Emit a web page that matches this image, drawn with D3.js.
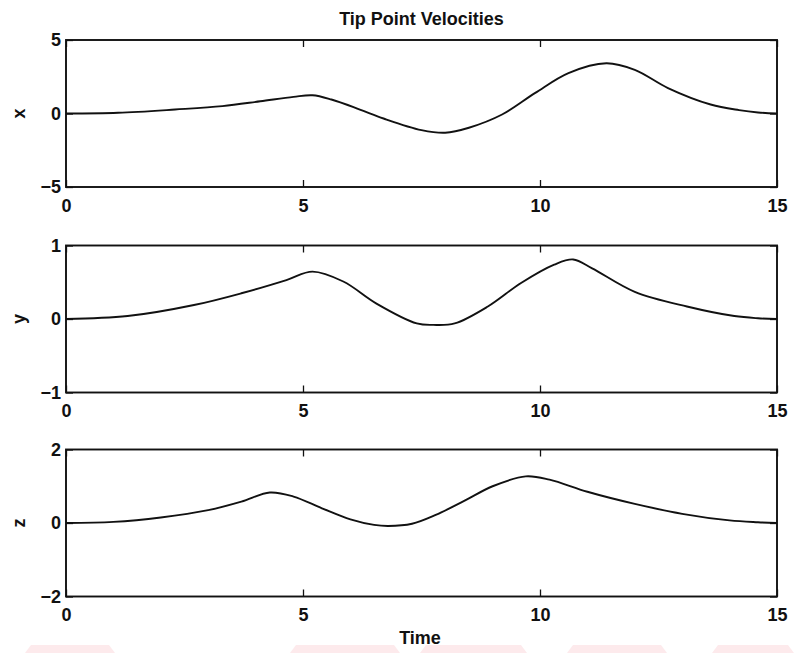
<!DOCTYPE html>
<html>
<head>
<meta charset="utf-8">
<script src="https://cdn.jsdelivr.net/npm/d3@7"></script>
<style>
  body { margin: 0; background: #fff; }
  svg { display: block; font-family: "Liberation Sans", Arial, sans-serif; }
</style>
</head>
<body>
<div id="chart"></div>
<script>

// time samples and velocity readings for each component
const tX = [0, 1.1, 2.3, 3.3, 4.1, 4.8, 5.2, 5.6, 6.2, 6.7, 7.5, 8.0, 8.5, 9.2, 9.9, 10.6, 11.4, 12.0, 12.7, 13.6, 14.2, 14.6, 15];
const vX = [0, 0.05, 0.27, 0.5, 0.83, 1.13, 1.24, 0.95, 0.27, -0.34, -1.13, -1.31, -0.97, -0.07, 1.40, 2.75, 3.42, 2.97, 1.73, 0.61, 0.23, 0.07, 0];

const tY = [0, 1.3, 2.7, 3.7, 4.65, 5.2, 5.85, 6.55, 7.4, 7.75, 8.2, 8.9, 9.6, 10.3, 10.7, 11.1, 12.0, 13.1, 14.1, 14.6, 15];
const vY = [0, 0.04, 0.19, 0.35, 0.53, 0.645, 0.51, 0.21, -0.06, -0.08, -0.06, 0.17, 0.49, 0.74, 0.81, 0.69, 0.37, 0.17, 0.04, 0.01, 0];

const tZ = [0, 1, 2, 3, 3.7, 4.3, 4.8, 5.4, 6.0, 6.5, 6.8, 7.3, 7.8, 8.4, 9.0, 9.7, 10.2, 11, 12, 13, 14, 14.6, 15];
const vZ = [0, 0.03, 0.15, 0.35, 0.58, 0.83, 0.72, 0.4, 0.1, -0.05, -0.08, -0.02, 0.22, 0.6, 1.0, 1.27, 1.18, 0.85, 0.52, 0.25, 0.07, 0.02, 0];

const xTicks = [0, 5, 10, 15];
const panelLabels = ["x", "y", "z"];
const panelDomains = [[-5, 5], [-1, 1], [-2, 2]];
const panelTicks = [[-5, 0, 5], [-1, 0, 1], [-2, 0, 2]];
const titleText = "Tip Point Velocities";
const xLabelText = "Time";

const width = 794, height = 653;
const left = 66, right = 777;
const panelTops = [40, 245.5, 449.5];
const panelH = 147;
const tickLen = 7;
const fontSize = 18;

const svg = d3.select("#chart").append("svg")
  .attr("width", width)
  .attr("height", height);

// faint watermark shapes along the bottom edge of the scan
const wm = [[25, 115], [290, 400], [420, 527], [567, 667], [712, 794]];
svg.selectAll(".wm")
  .data(wm)
  .enter().append("path")
  .attr("class", "wm")
  .attr("d", function(d) {
    return "M" + (d[0] + 6) + "," + 645 + "L" + (d[1] - 6) + "," + 645 +
      "L" + d[1] + "," + height + "L" + d[0] + "," + height + "Z";
  })
  .attr("fill", "#fdeaec");

var x = d3.scaleLinear()
  .domain([0, 15])
  .range([left, right]);

const series = [
  tX.map(function(t, i) { return [t, vX[i]]; }),
  tY.map(function(t, i) { return [t, vY[i]]; }),
  tZ.map(function(t, i) { return [t, vZ[i]]; })
];

series.forEach(function(data, p) {
  const top = panelTops[p];
  const bottom = top + panelH;

  var y = d3.scaleLinear()
    .domain(panelDomains[p])
    .range([bottom, top]);

  const g = svg.append("g").attr("class", "panel");

  // curve
  var line = d3.line()
    .x(function(d) { return x(d[0]); })
    .y(function(d) { return y(d[1]); })
    .curve(d3.curveCatmullRom.alpha(0.5));

  g.append("path")
    .datum(data)
    .attr("d", line)
    .attr("fill", "none")
    .attr("stroke", "#111")
    .attr("stroke-width", 1.9);

  // axes, ticks pointing inward like matlab
  g.append("g")
    .attr("transform", "translate(0," + bottom + ")")
    .call(d3.axisBottom(x).tickValues(xTicks).tickSize(-tickLen).tickPadding(12).tickFormat(d3.format("d")));

  g.append("g")
    .attr("transform", "translate(0," + top + ")")
    .call(d3.axisTop(x).tickValues(xTicks).tickSize(-tickLen).tickFormat(""));

  g.append("g")
    .attr("transform", "translate(" + left + ",0)")
    .call(d3.axisLeft(y).tickValues(panelTicks[p]).tickSize(-tickLen).tickPadding(5)
      .tickFormat(function(d) { return d < 0 ? "\u2212" + Math.abs(d) : d; }));

  g.append("g")
    .attr("transform", "translate(" + right + ",0)")
    .call(d3.axisRight(y).tickValues(panelTicks[p]).tickSize(-tickLen).tickFormat(""));

  g.selectAll(".domain").remove();
  g.selectAll(".tick line").attr("stroke", "#111").attr("stroke-width", 1.3);
  g.selectAll(".tick text")
    .attr("fill", "#111")
    .style("font-size", fontSize + "px")
    .style("font-weight", "bold")
    .style("font-family", "'Liberation Sans', Arial, sans-serif");

  g.append("rect")
    .attr("x", left)
    .attr("y", top)
    .attr("width", right - left)
    .attr("height", panelH)
    .attr("fill", "none")
    .attr("stroke", "#111")
    .attr("stroke-width", 1.9);

  g.append("text")
    .attr("transform", "translate(19," + (top + panelH / 2) + ") rotate(-90)")
    .attr("text-anchor", "middle")
    .attr("dy", "0.35em")
    .style("font-size", fontSize + "px")
    .style("font-weight", "bold")
    .attr("fill", "#111")
    .text(panelLabels[p]);
});

svg.append("text")
  .attr("x", (left + right) / 2)
  .attr("y", 25)
  .attr("text-anchor", "middle")
  .style("font-size", "18px")
  .style("font-weight", "bold")
  .attr("fill", "#111")
  .text(titleText);

svg.append("text")
  .attr("x", 420)
  .attr("y", 644)
  .attr("text-anchor", "middle")
  .style("font-size", fontSize + "px")
  .style("font-weight", "bold")
  .attr("fill", "#111")
  .text(xLabelText);

</script>
</body>
</html>
